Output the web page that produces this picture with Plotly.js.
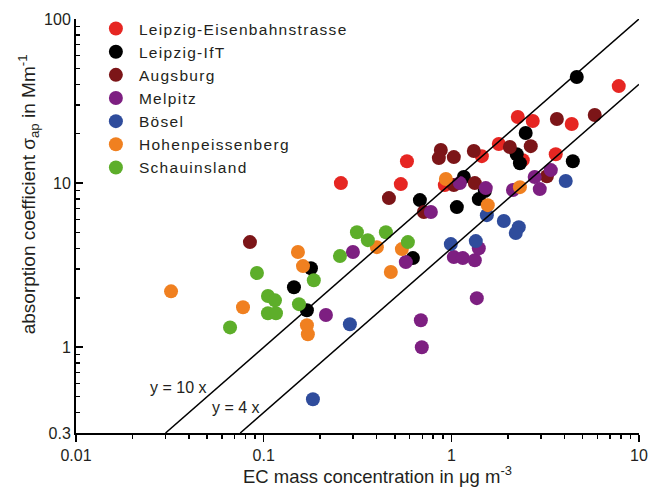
<!DOCTYPE html>
<html>
<head>
<meta charset="utf-8">
<script src="https://cdn.plot.ly/plotly-3.0.1.min.js"></script>
<style>
html,body{margin:0;padding:0;background:#fff;}
#chart{width:648px;height:489px;}
#chart .legendtext{letter-spacing:1.3px;}
</style>
</head>
<body>
<div id="chart"></div>
<script>
// ---- data ----
const seriesNames = ["Leipzig-Eisenbahnstrasse","Leipzig-IfT","Augsburg","Melpitz","Bösel","Hohenpeissenberg","Schauinsland"];
const seriesColors = ["#e62622","#000000","#7c1518","#7d1f81","#2f4c9c","#f08020","#5dae2a"];

const leipzigEisenbahnX = [0.258,0.538,0.580,0.923,1.454,1.790,2.26,2.716,2.403,3.60,4.38,7.80];
const leipzigEisenbahnY = [10.0,9.86,13.6,9.72,14.6,17.3,25.3,23.9,13.8,15.0,22.9,39.0];

const leipzigIfTX = [4.66,2.49,2.23,2.32,4.44,1.166,1.508,1.401,0.680,1.070,0.624,0.1786,0.145,0.170];
const leipzigIfTY = [44.3,20.2,15.0,13.2,13.6,10.9,8.94,7.99,7.88,7.14,3.49,3.03,2.32,1.68];

const augsburgX = [3.65,5.81,2.05,2.65,0.879,0.858,1.031,1.318,1.334,3.23,1.031,0.465,0.714,0.0845];
const augsburgY = [24.6,26.0,16.6,16.8,15.9,14.2,14.4,15.7,10.0,11.0,9.72,8.10,6.66,4.37];

const melpitzX = [3.39,2.78,2.96,2.13,1.526,1.110,0.778,0.299,0.572,1.031,1.151,1.334,1.401,1.367,0.688,0.696,0.2147];
const melpitzY = [12.0,10.9,9.19,9.07,9.32,10.0,6.66,3.80,3.30,3.54,3.49,3.39,4.01,1.99,1.46,1.00,1.57];

const boeselX = [4.07,1.546,1.904,2.288,2.205,0.994,1.350,0.288,0.183];
const boeselY = [10.3,6.38,5.87,5.39,4.96,4.25,4.43,1.38,0.482];

const hohenX = [0.0321,0.0776,0.1523,0.162,0.170,0.172,0.401,0.545,0.476,0.935,1.564,2.32];
const hohenY = [2.19,1.75,3.80,3.12,1.36,1.20,4.07,3.96,2.87,10.6,7.34,9.45];

const schauX = [0.314,0.359,0.448,0.587,0.255,0.0921,0.185,0.1054,0.1149,0.1054,0.1163,0.1542,0.0662];
const schauY = [5.02,4.49,5.02,4.37,3.59,2.83,2.56,2.05,1.93,1.61,1.61,1.83,1.32];

// reference lines y = 10 x and y = 4 x
const line10X = [0.03, 10];
const line4X = [0.075, 10];
const lineFactors = [10, 4];
const lineLabels = ["y = 10 x", "y = 4 x"];

// axis ticks
const xTickVals = [0.01, 0.1, 1, 10];
const xTickText = ["0.01", "0.1", "1", "10"];
const xMinorVals = [0.02,0.03,0.04,0.05,0.06,0.07,0.08,0.09,0.2,0.3,0.4,0.5,0.6,0.7,0.8,0.9,2,3,4,5,6,7,8,9];
const yTickVals = [0.3, 1, 10, 100];
const yTickText = ["0.3", "1", "10", "100"];
const yMinorVals = [0.4,0.5,0.6,0.7,0.8,0.9,2,3,4,5,6,7,8,9,20,30,40,50,60,70,80,90];

const seriesX = [leipzigEisenbahnX, leipzigIfTX, augsburgX, melpitzX, boeselX, hohenX, schauX];
const seriesY = [leipzigEisenbahnY, leipzigIfTY, augsburgY, melpitzY, boeselY, hohenY, schauY];

const FONT = "Liberation Sans, Arial, Helvetica, sans-serif";
const TXT = "#231f20";

const traces = seriesNames.map((name, i) => ({
  type: "scatter",
  mode: "markers",
  name: name,
  x: seriesX[i],
  y: seriesY[i],
  marker: {color: seriesColors[i], size: 14, line: {width: 0}},
  cliponaxis: false
}));

[line10X, line4X].forEach((lx, i) => {
  traces.push({
    type: "scatter",
    mode: "lines",
    x: lx,
    y: lx.map(v => v * lineFactors[i]),
    line: {color: "#000", width: 1.5},
    showlegend: false,
    hoverinfo: "skip"
  });
});

const layout = {
  width: 648,
  height: 489,
  margin: {l: 76, r: 9, t: 19, b: 56},
  paper_bgcolor: "#fff",
  plot_bgcolor: "#fff",
  font: {family: FONT, size: 16, color: TXT},
  showlegend: true,
  legend: {
    x: 0.03, y: 1.017, xanchor: "left", yanchor: "top",
    bgcolor: "rgba(0,0,0,0)",
    itemwidth: 36,
    font: {family: FONT, size: 15.5, color: TXT},
    itemclick: false
  },
  xaxis: {
    type: "log",
    range: [-2, 1],
    showgrid: false, zeroline: false,
    showline: true, linecolor: "#000", linewidth: 2,
    ticks: "outside", ticklen: 7, tickwidth: 1.5, tickcolor: "#000",
    tickmode: "array", tickvals: xTickVals, ticktext: xTickText,
    tickfont: {family: FONT, size: 16, color: TXT},
    minor: {tickmode: "array", tickvals: xMinorVals, ticks: "outside", ticklen: 4, tickwidth: 1.5, tickcolor: "#000", showgrid: false}
  },
  yaxis: {
    type: "log",
    range: [Math.log10(0.3), 2],
    showgrid: false, zeroline: false,
    showline: true, linecolor: "#000", linewidth: 2,
    ticks: "inside", ticklen: 7, tickwidth: 1.5, tickcolor: "#000",
    tickmode: "array", tickvals: yTickVals, ticktext: yTickText,
    tickfont: {family: FONT, size: 16, color: TXT},
    minor: {tickmode: "array", tickvals: yMinorVals, ticks: "inside", ticklen: 4, tickwidth: 1.5, tickcolor: "#000", showgrid: false}
  },
  annotations: [
    {text: lineLabels[0], xref: "paper", yref: "paper", x: 0.1817, y: 0.1087, xanchor: "center", yanchor: "middle", showarrow: false, font: {family: FONT, size: 16, color: TXT}},
    {text: lineLabels[1], xref: "paper", yref: "paper", x: 0.2847, y: 0.0604, xanchor: "center", yanchor: "middle", showarrow: false, font: {family: FONT, size: 16, color: TXT}},
    {text: "EC mass concentration in μg m<sup>-3</sup>", xref: "paper", yref: "paper", x: 0.535, y: -0.102, xanchor: "center", yanchor: "middle", showarrow: false, font: {family: FONT, size: 18.5, color: TXT}},
    {text: "absorption coefficient σ<sub>ap</sub> in Mm<sup>-1</sup>", xref: "paper", yref: "paper", x: -0.085, y: 0.577, xanchor: "center", yanchor: "middle", textangle: -90, showarrow: false, font: {family: FONT, size: 19, color: TXT}}
  ]
};

Plotly.newPlot("chart", traces, layout, {displayModeBar: false, staticPlot: true}).then(gd => {
  // let the letter-spaced legend texts show in full
  gd.querySelectorAll(".legend .scrollbox, .legend").forEach(el => el.removeAttribute("clip-path"));
});
</script>
</body>
</html>
